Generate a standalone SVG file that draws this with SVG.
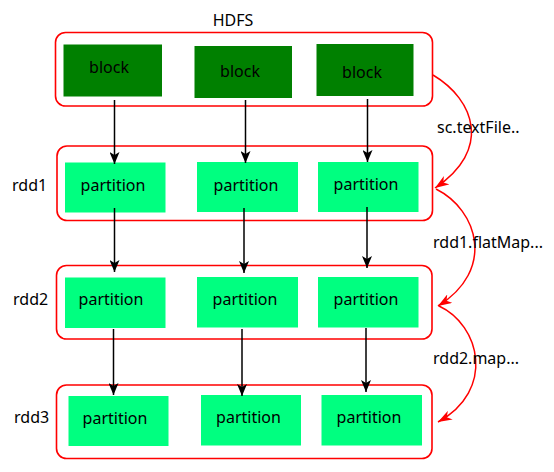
<svg xmlns="http://www.w3.org/2000/svg" width="554" height="472" viewBox="0 0 554 472">
<style>
.ctr{fill:#fff;stroke:#ff0000;stroke-width:1.6}
.blk{fill:#008000}
.prt{fill:#00ff80}
text{font-family:"Noto Sans","Open Sans","Liberation Sans",sans-serif;font-size:16px;fill:#000}
.c{text-anchor:middle}
.ed{fill:none;stroke:#000;stroke-width:1.5}
.red{fill:none;stroke:#ff0000;stroke-width:1.5}
</style>
<defs>
<marker id="ab" viewBox="0 0 12 10" refX="12" refY="5" markerWidth="12" markerHeight="10" markerUnits="userSpaceOnUse" orient="auto">
<path d="M0,0 L12,5 L0,10 L3,5 z" fill="#000"/>
</marker>
<marker id="ar" viewBox="0 0 14 10" refX="14" refY="5" markerWidth="14" markerHeight="10" markerUnits="userSpaceOnUse" orient="auto">
<path d="M0,0 L14,5 L0,10 L4,5 z" fill="#ff0000"/>
</marker>
</defs>
<g id="hdfs">
<text class="c" x="233" y="26">HDFS</text>
<rect class="ctr" x="55.5" y="32.5" width="377" height="73.5" rx="10"/>
</g>
<g id="rdd1">
<text x="12" y="191">rdd1</text>
<rect class="ctr" x="57" y="146" width="375.5" height="74.5" rx="10"/>
</g>
<g id="rdd2">
<text x="13" y="305">rdd2</text>
<rect class="ctr" x="56.5" y="265.5" width="375.5" height="73.5" rx="10"/>
</g>
<g id="rdd3">
<text x="14" y="423">rdd3</text>
<rect class="ctr" x="56.5" y="385" width="375.5" height="73.5" rx="10"/>
</g>
<g id="block1"><rect class="blk" x="63.5" y="44.5" width="98.5" height="52"/><text class="c" x="109" y="72.5">block</text></g>
<g id="block2"><rect class="blk" x="194.5" y="46" width="97.5" height="52"/><text class="c" x="240" y="77">block</text></g>
<g id="block3"><rect class="blk" x="316.5" y="44" width="97" height="52"/><text class="c" x="362" y="78">block</text></g>
<g id="r1p1"><rect class="prt" x="65" y="162.5" width="100.5" height="50"/><text class="c" x="113" y="191">partition</text></g>
<g id="r1p2"><rect class="prt" x="197" y="162" width="101" height="50"/><text class="c" x="246" y="191">partition</text></g>
<g id="r1p3"><rect class="prt" x="318" y="162" width="100.5" height="50"/><text class="c" x="366" y="190">partition</text></g>
<g id="r2p1"><rect class="prt" x="65" y="277.5" width="100.5" height="50.5"/><text class="c" x="111" y="305">partition</text></g>
<g id="r2p2"><rect class="prt" x="197" y="277" width="101" height="50.5"/><text class="c" x="245" y="305">partition</text></g>
<g id="r2p3"><rect class="prt" x="318" y="277" width="100.5" height="50.5"/><text class="c" x="366" y="305">partition</text></g>
<g id="r3p1"><rect class="prt" x="68.5" y="396" width="100" height="50"/><text class="c" x="115" y="424">partition</text></g>
<g id="r3p2"><rect class="prt" x="201" y="395" width="100" height="50.5"/><text class="c" x="248.5" y="423">partition</text></g>
<g id="r3p3"><rect class="prt" x="321.5" y="395" width="100.5" height="50.5"/><text class="c" x="369" y="423">partition</text></g>
<g id="connectors">
<path class="ed" d="M114.5,100 V164" marker-end="url(#ab)"/>
<path class="ed" d="M245.5,100 V163" marker-end="url(#ab)"/>
<path class="ed" d="M367.5,99 V162" marker-end="url(#ab)"/>
<path class="ed" d="M114.5,208 V272" marker-end="url(#ab)"/>
<path class="ed" d="M244,208 V273" marker-end="url(#ab)"/>
<path class="ed" d="M367,207 V268" marker-end="url(#ab)"/>
<path class="ed" d="M113.5,329 V395" marker-end="url(#ab)"/>
<path class="ed" d="M242,329 V396" marker-end="url(#ab)"/>
<path class="ed" d="M366,328 V392" marker-end="url(#ab)"/>
<path class="red" d="M433,75 C475,100 492,150 435,188" marker-end="url(#ar)"/>
<path class="red" d="M436,189 C478,210 496,270 438,306" marker-end="url(#ar)"/>
<path class="red" d="M439,306 C480,325 496,390 438,422" marker-end="url(#ar)"/>
<text x="437" y="133">sc.textFile..</text>
<text x="433" y="248">rdd1.flatMap...</text>
<text x="433" y="364">rdd2.map...</text>
</g>
</svg>
